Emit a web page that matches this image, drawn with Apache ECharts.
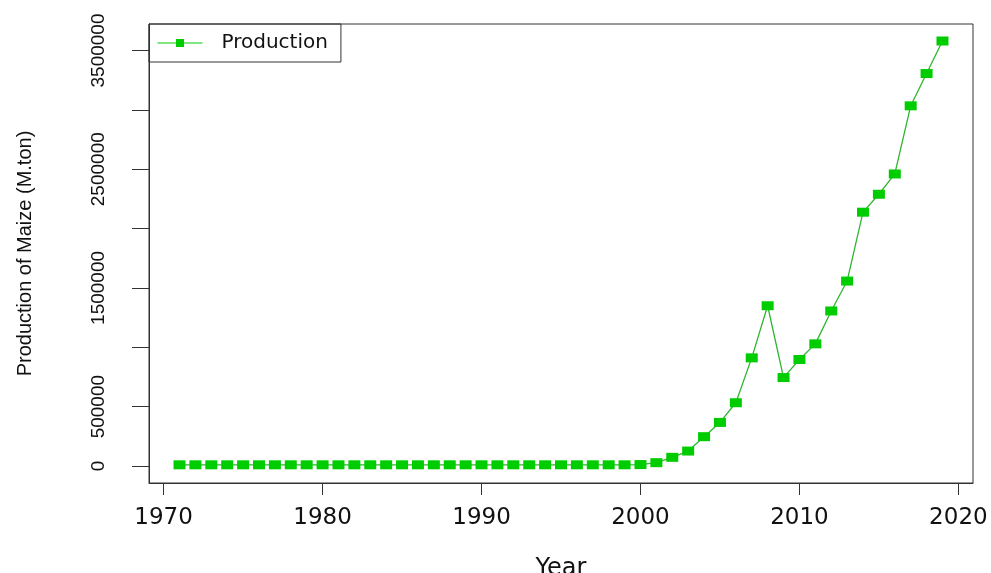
<!DOCTYPE html>
<html>
<head>
<meta charset="utf-8">
<script src="https://cdn.jsdelivr.net/npm/echarts@6/dist/echarts.min.js"></script>
<style>
html,body{margin:0;padding:0;background:#fff;}
#chart{width:991px;height:573px;}
</style>
</head>
<body>
<div id="chart"></div>
<script>
// ---- data ----
const years = [1971,1972,1973,1974,1975,1976,1977,1978,1979,1980,
  1981,1982,1983,1984,1985,1986,1987,1988,1989,1990,
  1991,1992,1993,1994,1995,1996,1997,1998,1999,2000,
  2001,2002,2003,2004,2005,2006,2007,2008,2009,2010,
  2011,2012,2013,2014,2015,2016,2017,2018,2019];
const production = [10000,10000,10000,10000,10000,10000,10000,10000,10000,10000,
  10000,10000,10000,10000,10000,10000,10000,10000,10000,10000,
  10000,10000,10000,10000,10000,10000,10000,10000,10000,12000,
  28000,73000,126000,247000,367000,533000,911000,1350000,745000,897000,
  1029000,1306000,1558000,2138000,2289000,2460000,3034000,3306000,3580000];
const xTicks = [1970,1980,1990,2000,2010,2020];
const yTicks = [0,500000,1000000,1500000,2000000,2500000,3000000,3500000];
const yLabelTicks = [0,500000,1500000,2500000,3500000];
const seriesName = 'Production';
const xTitle = 'Year';
const yTitle = 'Production of Maize (M.ton)';

// R-style 4% axis padding
const xPad = (years[years.length-1]-years[0])*0.04;
const yMaxV = Math.max(...production);
const yPad = (yMaxV - 0)*0.04;

const chart = echarts.init(document.getElementById('chart'));
const green = '#00cd00';
chart.setOption({
  animation: false,
  backgroundColor: '#ffffff',
  grid: {left:149, right:18, top:24, bottom:90, show:true, borderColor:'#333', borderWidth:1, backgroundColor:'transparent', containLabel:false, outerBoundsMode:'none'},
  legend: {
    data:[seriesName], left:149, top:24, orient:'horizontal',
    borderColor:'#333', borderWidth:1, borderRadius:0,
    padding:[9,13,9,8], itemWidth:45, itemHeight:10,
    textStyle:{fontFamily:'DejaVu Sans', fontSize:20, color:'#111', padding:[0,0,0,14]},
    itemStyle:{color:green}, lineStyle:{color:green, width:1}
  },
  xAxis: {
    type:'value', min: years[0]-xPad, max: years[years.length-1]+xPad,
    name: xTitle, nameLocation:'middle', nameGap:74,
    nameTextStyle:{fontFamily:'DejaVu Sans', fontSize:24, color:'#111'},
    axisLine:{show:true, onZero:false, lineStyle:{color:'#333', width:1}},
    axisTick:{show:true, length:12, lineStyle:{color:'#333'}, customValues: xTicks},
    axisLabel:{fontFamily:'DejaVu Sans', fontSize:23, color:'#111', margin:24, customValues: xTicks, formatter: v => String(v)},
    splitLine:{show:false}
  },
  yAxis: {
    type:'value', min: 0 - yPad, max: yMaxV + yPad,
    name: yTitle, nameLocation:'middle', nameGap:114,
    nameTextStyle:{fontFamily:'Liberation Sans', fontSize:20, color:'#111'},
    axisLine:{show:true, onZero:false, lineStyle:{color:'#333', width:1}},
    axisTick:{show:true, length:17, lineStyle:{color:'#333'}, customValues: yTicks},
    axisLabel:{fontFamily:'Liberation Sans', fontSize:19, color:'#111', rotate:90, margin:41, customValues: yLabelTicks, formatter: v => String(v)},
    splitLine:{show:false}
  },
  series: [{
    name: seriesName, type:'line',
    data: years.map((y,i)=>[y, production[i]]),
    symbol:'rect', symbolSize:[12,9],
    itemStyle:{color:green},
    lineStyle:{color:'#2fb52f', width:1.3},
    showAllSymbol:true
  }]
});
</script>
</body>
</html>
